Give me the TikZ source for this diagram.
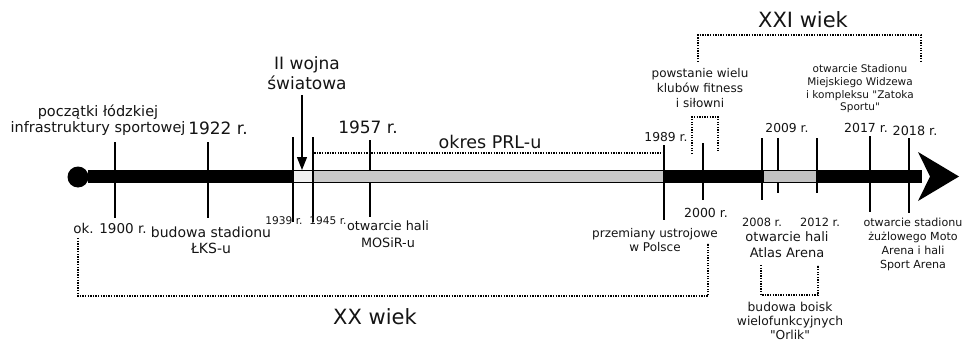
\documentclass[tikz,border=0pt]{standalone}
\usepackage{fontspec}
\setmainfont{DejaVu Sans}[Ligatures=TeXOff]
\usetikzlibrary{arrows.meta}
\begin{document}
\begin{tikzpicture}[x=1pt,y=-1pt,
 fz/.style 2 args={font=\fontsize{#1}{#2}\selectfont},
 lbl/.style={inner sep=0pt, align=center, text=black!92},
 tickline/.style={line width=1.6pt},
 dots/.style={line width=1.3pt, dash pattern=on 1.3pt off 1.3pt},
 warrow/.style={line width=1.3pt, -{Triangle[length=13pt,width=10pt]}}
]
\useasboundingbox (0,0) rectangle (963,342);

% ticks
\foreach \n/\x/\a/\b in {t1900/115/142/218, t1922/208/142/218, t1939/293/137/222,
  t1945/313/137/222, t1957/370/140/217, t1989/664/145/220, t2000/703/143/200,
  t2008/762/138/200, t2009/778/138/193, t2012/817/138/193, t2017/870/136/212,
  t2018/909/138/213}
  {\draw[tickline] (\x,\a) coordinate (\n top) -- (\x,\b) coordinate (\n bot);}

% bar
\fill[black] (88,170) rectangle (922,183);
\fill[gray!12] (294.2,171.4) rectangle (311.8,181.6);
\fill[gray!42] (314.2,171.4) rectangle (663,181.6);
\fill[gray!48] (764,171.4) rectangle (816,181.6);
\fill[black] (78,177) circle (10.5);
\fill[black] (918,152) -- (959,176.5) -- (918,201) -- (930,176.5) -- cycle;

% top labels
\node[lbl,fz={14.5}{16}] (poczatki) at (98,120) {początki łódzkiej\\infrastruktury sportowej};
\node[lbl,fz={17}{20}] (y1922) at (218,128) {1922 r.};
\node[lbl,fz={17}{20}] (wojna) at (307,73) {II wojna\\światowa};
\node[lbl,fz={17}{20}] (y1957) at (368,127) {1957 r.};
\node[lbl,fz={17.5}{20}] (prl) at (490,142) {okres PRL-u};
\node[lbl,fz={12.3}{14}] (y1989) at (666,137) {1989 r.};
\node[lbl,fz={12}{15}] (fitness) at (700,88) {powstanie wielu\\klubów fitness\\i siłowni};
\node[lbl,fz={10.5}{12.7}] (widzew) at (860,89) {otwarcie Stadionu\\Miejskiego Widzewa\\i kompleksu "Zatoka\\Sportu"};
\node[lbl,fz={21}{24}] (xxi) at (803,20) {XXI wiek};
\node[lbl,fz={12.3}{14}] (y2009) at (787,128) {2009 r.};
\node[lbl,fz={12.5}{14}] (y2017) at (866,128) {2017 r.};
\node[lbl,fz={12.8}{14}] (y2018) at (915,131) {2018 r.};

% bottom labels
\node[lbl,fz={13.5}{16}] (y1900) at (110,228) {ok. 1900 r.};
\node[lbl,fz={14}{16}] (lks) at (211,240) {budowa stadionu\\ŁKS-u};
\node[lbl,fz={10.6}{12}] (y1939) at (284,221) {1939 r.};
\node[lbl,fz={10.6}{12}] (y1945) at (328,221) {1945 r.};
\node[lbl,fz={12.8}{17}] (mosir) at (388,234.5) {otwarcie hali\\MOSiR-u};
\node[lbl,fz={12}{14}] (ustroj) at (655,240) {przemiany ustrojowe\\w Polsce};
\node[lbl,fz={12.5}{14}] (y2000) at (706,213) {2000 r.};
\node[lbl,fz={11.4}{13}] (y2008) at (762,222) {2008 r.};
\node[lbl,fz={11.4}{13}] (y2012) at (820,222) {2012 r.};
\node[lbl,fz={13}{16}] (atlas) at (787,245) {otwarcie hali\\Atlas Arena};
\node[lbl,fz={12.3}{14}] (orlik) at (790,321) {budowa boisk\\wielofunkcyjnych\\"Orlik"};
\node[lbl,fz={11.1}{14}] (moto) at (913,244) {otwarcie stadionu\\żużlowego Moto\\Arena i hali\\Sport Arena};
\node[lbl,fz={21}{24}] (xx) at (375,317) {XX wiek};

% war arrow
\coordinate (wartip) at (302,170);
\draw[warrow] (302,95) -- (wartip);

% dotted brackets
\draw[dots] (t1945top |- 0,170) -- (313,153) -- (664,153) -- (664,170);
\draw[dots] (698,62) -- (698,35) -- (921,35) -- (921,62);
\draw[dots] (692,154) -- (692,117) -- (718,117) -- (718,152);
\draw[dots] (78,238) -- (78,296) -- (708,296) -- (708,243);
\draw[dots] (761,265) -- (761,295) -- (818,295) -- (818,265);
\end{tikzpicture}
\end{document}
